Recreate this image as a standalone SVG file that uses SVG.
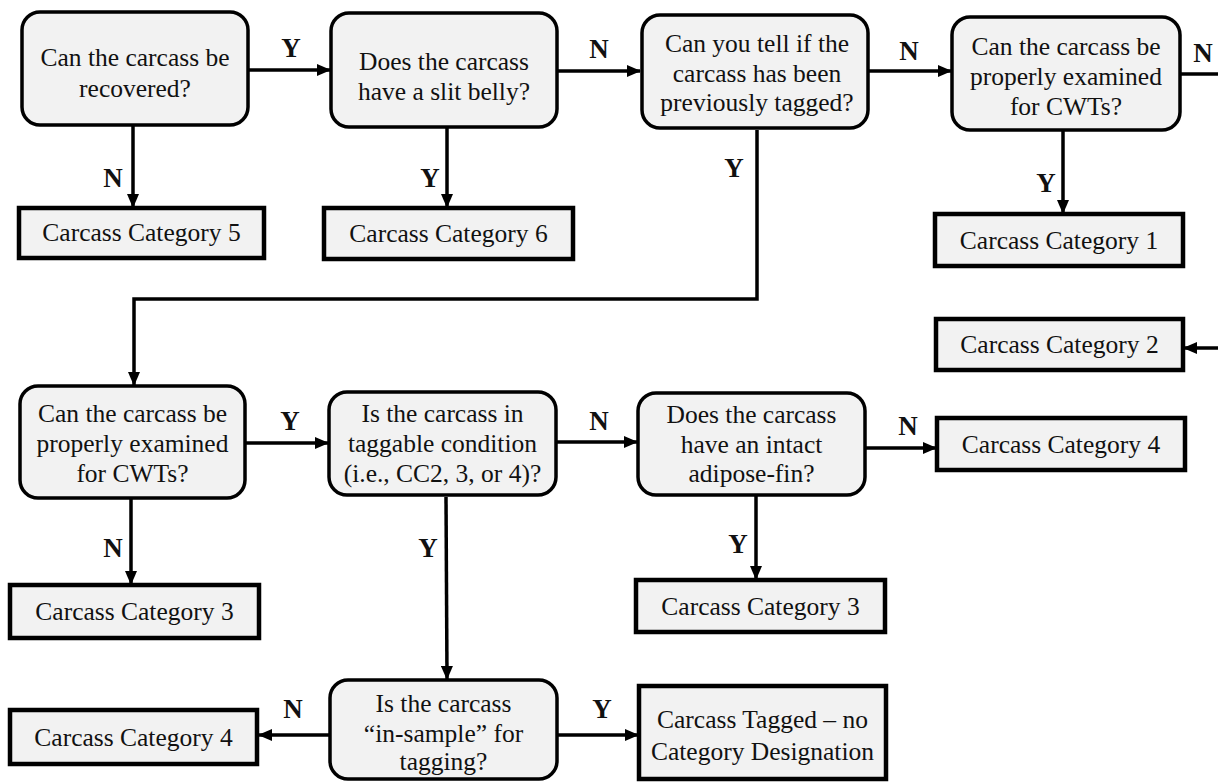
<svg xmlns="http://www.w3.org/2000/svg" width="1218" height="782" viewBox="0 0 1218 782">
<style>
.q{fill:#f2f2f2;stroke:#000;stroke-width:3.5}
.c{fill:#f2f2f2;stroke:#000;stroke-width:4.5}
.t{font-family:"Liberation Serif","Times New Roman",serif;font-size:25.5px;fill:#111;text-anchor:middle}
.l{font-family:"Liberation Serif","Times New Roman",serif;font-size:27px;font-weight:bold;fill:#111;text-anchor:middle}
.w{fill:none;stroke:#000;stroke-width:3.5}
</style>
<defs>
<marker id="ah" markerUnits="userSpaceOnUse" markerWidth="14" markerHeight="12" refX="13" refY="6" orient="auto">
<path d="M0,0 L14,6 L0,12 z" fill="#000"/>
</marker>
</defs>
<rect width="1218" height="782" fill="#fff"/>

<g id="connectors">
<line class="w" x1="248" y1="70" x2="330" y2="70" marker-end="url(#ah)"/>
<text class="l" x="291" y="57">Y</text>
<line class="w" x1="133" y1="125" x2="133" y2="207" marker-end="url(#ah)"/>
<text class="l" x="113" y="187">N</text>
<line class="w" x1="557" y1="71" x2="640" y2="71" marker-end="url(#ah)"/>
<text class="l" x="599" y="58">N</text>
<line class="w" x1="447" y1="127" x2="447" y2="207" marker-end="url(#ah)"/>
<text class="l" x="430" y="187">Y</text>
<line class="w" x1="868" y1="71" x2="951" y2="71" marker-end="url(#ah)"/>
<text class="l" x="909" y="60">N</text>
<line class="w" x1="1180" y1="74" x2="1218" y2="74"/>
<text class="l" x="1203" y="62">N</text>
<line class="w" x1="1063" y1="130" x2="1063" y2="213" marker-end="url(#ah)"/>
<text class="l" x="1046" y="192">Y</text>
<line class="w" x1="1218" y1="348" x2="1184" y2="348" marker-end="url(#ah)"/>
<polyline class="w" points="757,130 757,299 134,299 134,385" marker-end="url(#ah)"/>
<text class="l" x="734" y="177">Y</text>
<line class="w" x1="245" y1="443" x2="328" y2="443" marker-end="url(#ah)"/>
<text class="l" x="290" y="430">Y</text>
<line class="w" x1="131" y1="498" x2="131" y2="584" marker-end="url(#ah)"/>
<text class="l" x="113" y="557">N</text>
<line class="w" x1="556" y1="442" x2="637" y2="442" marker-end="url(#ah)"/>
<text class="l" x="599" y="430">N</text>
<line class="w" x1="446" y1="497" x2="447" y2="679" marker-end="url(#ah)"/>
<text class="l" x="428" y="557">Y</text>
<line class="w" x1="865" y1="448" x2="936" y2="448" marker-end="url(#ah)"/>
<text class="l" x="908" y="435">N</text>
<line class="w" x1="756" y1="495" x2="756" y2="579" marker-end="url(#ah)"/>
<text class="l" x="738" y="553">Y</text>
<line class="w" x1="330" y1="735" x2="259" y2="735" marker-end="url(#ah)"/>
<text class="l" x="293" y="718">N</text>
<line class="w" x1="557" y1="735" x2="638" y2="735" marker-end="url(#ah)"/>
<text class="l" x="602" y="718">Y</text>
</g>

<g id="q-recovered">
<rect class="q" x="22" y="12" width="226" height="113" rx="18"/>
<text class="t" x="135" y="66">Can the carcass be</text>
<text class="t" x="135" y="97">recovered?</text>
</g>
<g id="cat5">
<rect class="c" x="19" y="208" width="245" height="50"/>
<text class="t" x="141.5" y="241">Carcass Category 5</text>
</g>
<g id="q-slit">
<rect class="q" x="331" y="13" width="226" height="114" rx="18"/>
<text class="t" x="444" y="70">Does the carcass</text>
<text class="t" x="444" y="100">have a slit belly?</text>
</g>
<g id="cat6">
<rect class="c" x="324" y="208" width="249" height="51"/>
<text class="t" x="448.5" y="242">Carcass Category 6</text>
</g>
<g id="q-tagged">
<rect class="q" x="642" y="15" width="226" height="113" rx="18"/>
<text class="t" x="757" y="52">Can you tell if the</text>
<text class="t" x="757" y="82">carcass has been</text>
<text class="t" x="757" y="111">previously tagged?</text>
</g>
<g id="q-cwt1">
<rect class="q" x="952" y="17" width="228" height="113" rx="18"/>
<text class="t" x="1066" y="55">Can the carcass be</text>
<text class="t" x="1066" y="85">properly examined</text>
<text class="t" x="1066" y="115">for CWTs?</text>
</g>
<g id="cat1">
<rect class="c" x="935" y="214" width="248" height="52"/>
<text class="t" x="1059" y="249">Carcass Category 1</text>
</g>
<g id="cat2">
<rect class="c" x="936" y="319" width="247" height="51"/>
<text class="t" x="1059.5" y="353">Carcass Category 2</text>
</g>
<g id="q-cwt2">
<rect class="q" x="20" y="386" width="225" height="112" rx="18"/>
<text class="t" x="132.5" y="422">Can the carcass be</text>
<text class="t" x="132.5" y="452">properly examined</text>
<text class="t" x="132.5" y="482">for CWTs?</text>
</g>
<g id="cat3a">
<rect class="c" x="10" y="585" width="249" height="53"/>
<text class="t" x="134.5" y="620">Carcass Category 3</text>
</g>
<g id="q-condition">
<rect class="q" x="329" y="392" width="227" height="103" rx="18"/>
<text class="t" x="442.5" y="422">Is the carcass in</text>
<text class="t" x="442.5" y="452">taggable condition</text>
<text class="t" x="442.5" y="482">(i.e., CC2, 3, or 4)?</text>
</g>
<g id="q-adipose">
<rect class="q" x="638" y="393" width="227" height="102" rx="18"/>
<text class="t" x="751.5" y="423">Does the carcass</text>
<text class="t" x="751.5" y="453">have an intact</text>
<text class="t" x="751.5" y="482">adipose-fin?</text>
</g>
<g id="cat4a">
<rect class="c" x="937" y="418" width="248" height="52"/>
<text class="t" x="1061" y="453">Carcass Category 4</text>
</g>
<g id="cat3b">
<rect class="c" x="636" y="580" width="249" height="52"/>
<text class="t" x="760.5" y="615">Carcass Category 3</text>
</g>
<g id="q-insample">
<rect class="q" x="330" y="680" width="227" height="99" rx="18"/>
<text class="t" x="443.5" y="712">Is the carcass</text>
<text class="t" x="443.5" y="742">“in-sample” for</text>
<text class="t" x="443.5" y="770">tagging?</text>
</g>
<g id="cat4b">
<rect class="c" x="10" y="710" width="247" height="54"/>
<text class="t" x="133.5" y="746">Carcass Category 4</text>
</g>
<g id="tagged">
<rect class="c" x="639" y="686" width="247" height="93"/>
<text class="t" x="762.5" y="728">Carcass Tagged – no</text>
<text class="t" x="762.5" y="760">Category Designation</text>
</g>
</svg>
